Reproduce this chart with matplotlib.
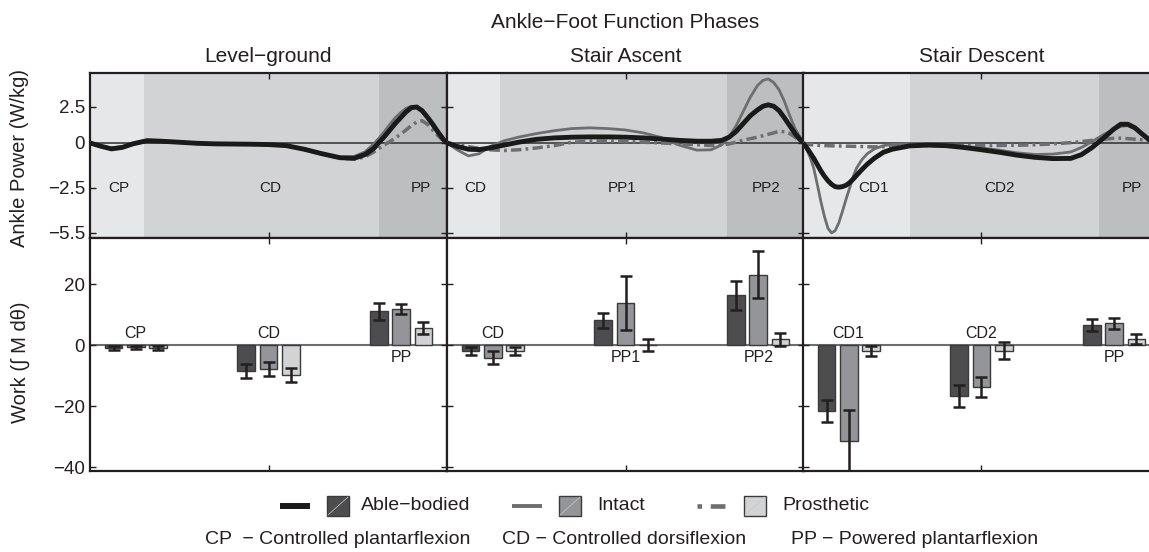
import numpy as np
import matplotlib
matplotlib.use('Agg')
import matplotlib.pyplot as plt
from matplotlib.lines import Line2D
from matplotlib.patches import Rectangle

plt.rcParams['font.family'] = ['Liberation Sans', 'DejaVu Sans']

MINUS = '\u2212'

# ---------------- data ----------------
tasks = ['Level' + MINUS + 'ground', 'Stair Ascent', 'Stair Descent']
groups = ['Able' + MINUS + 'bodied', 'Intact', 'Prosthetic']

# phase boundaries as fraction of stance, and phase names
phase_bounds = [[0, 0.151, 0.81, 1.0], [0, 0.149, 0.784, 1.0], [0, 0.30, 0.83, 1.0]]
phase_names = [['CP', 'CD', 'PP'], ['CD', 'PP1', 'PP2'], ['CD1', 'CD2', 'PP']]
phase_label_x = [[0.081, 0.504, 0.926], [0.079, 0.49, 0.893], [0.198, 0.55, 0.921]]

# ankle power (W/kg) vs fraction of stance
level_x = [0, 0.03, 0.06, 0.09, 0.12, 0.16, 0.2, 0.25, 0.3, 0.35, 0.4, 0.45, 0.5, 0.55, 0.6, 0.65, 0.7, 0.74,
           0.77, 0.795, 0.81, 0.825, 0.84, 0.855, 0.87, 0.885, 0.9, 0.915, 0.93, 0.945, 0.96, 0.975, 0.99, 1.0]
level_able = [0, -0.18, -0.33, -0.25, -0.05, 0.16, 0.12, 0.05, -0.02, -0.05, -0.06, -0.07, -0.09, -0.15,
              -0.35, -0.6, -0.82, -0.85,
              -0.65, -0.3, 0.05, 0.45, 0.9, 1.35, 1.75, 2.15, 2.45, 2.5, 2.25, 1.8, 1.3, 0.75, 0.25, 0]
level_intact = [0, -0.15, -0.3, -0.22, -0.05, 0.15, 0.1, 0.04, -0.02, -0.05, -0.06, -0.07, -0.09, -0.15,
                -0.35, -0.6, -0.8, -0.75,
                -0.5, -0.05, 0.35, 0.8, 1.3, 1.75, 2.1, 2.4, 2.55, 2.5, 2.25, 1.8, 1.25, 0.7, 0.25, 0]
level_prost = [0, -0.15, -0.3, -0.22, -0.05, 0.12, 0.1, 0.04, -0.02, -0.05, -0.06, -0.07, -0.09, -0.15,
               -0.35, -0.6, -0.85, -0.9,
               -0.78, -0.5, -0.3, -0.1, 0.1, 0.35, 0.6, 0.9, 1.2, 1.45, 1.55, 1.3, 0.9, 0.5, 0.15, 0]

ascent_x = [0, 0.03, 0.06, 0.09, 0.12, 0.16, 0.2, 0.25, 0.3, 0.35, 0.4, 0.45, 0.5, 0.55, 0.6, 0.65, 0.7,
            0.74, 0.77, 0.79, 0.81, 0.83, 0.85, 0.87, 0.885, 0.9, 0.915, 0.93, 0.945, 0.96, 0.975, 0.99, 1.0]
ascent_able = [0, -0.2, -0.35, -0.37, -0.28, -0.12, 0.05, 0.25, 0.35, 0.4, 0.42, 0.42, 0.4, 0.35, 0.27, 0.18, 0.12,
               0.12, 0.18, 0.4, 0.8, 1.35, 1.9, 2.3, 2.55, 2.65, 2.55, 2.25, 1.75, 1.2, 0.65, 0.2, 0]
ascent_intact = [0, -0.4, -0.72, -0.6, -0.2, 0.15, 0.4, 0.65, 0.85, 1.0, 1.05, 1.0, 0.9, 0.7, 0.38, -0.12, -0.4,
                 -0.38, -0.1, 0.4, 1.2, 2.2, 3.2, 4.0, 4.35, 4.45, 4.2, 3.7, 2.9, 1.9, 1.0, 0.35, 0]
ascent_prost = [0, -0.1, -0.2, -0.3, -0.38, -0.42, -0.38, -0.28, -0.15, 0.05, 0.12, 0.13, 0.1, 0.05, 0.0, -0.05, -0.1,
                -0.14, -0.12, -0.05, 0.05, 0.2, 0.3, 0.4, 0.5, 0.6, 0.7, 0.8, 0.78, 0.65, 0.4, 0.12, 0]

descent_x = [0, 0.01, 0.02, 0.03, 0.04, 0.05, 0.06, 0.07, 0.08, 0.09, 0.1, 0.11, 0.12, 0.13, 0.14, 0.15,
             0.165, 0.18, 0.2, 0.225, 0.25, 0.3, 0.35, 0.4, 0.45, 0.5, 0.55, 0.6, 0.65, 0.7, 0.75,
             0.78, 0.81, 0.84, 0.87, 0.89, 0.91, 0.93, 0.95, 0.97, 0.985, 1.0]
descent_able = [0, -0.25, -0.55, -0.85, -1.2, -1.55, -1.85, -2.1, -2.3, -2.43, -2.46, -2.43, -2.36, -2.22, -2.02, -1.8,
                -1.48, -1.18, -0.85, -0.52, -0.35, -0.16, -0.12, -0.15, -0.25, -0.38, -0.52, -0.68, -0.8, -0.87, -0.86,
                -0.65, -0.25, 0.3, 0.95, 1.3, 1.3, 1.05, 0.62, 0.22, 0.07, 0]
descent_intact = [0, -0.35, -0.8, -1.4, -2.3, -3.4, -4.4, -5.2, -5.5, -5.35, -4.85, -4.1, -3.3, -2.55, -1.9, -1.4,
                  -0.93, -0.6, -0.33, -0.15, -0.08, -0.04, -0.05, -0.1, -0.18, -0.28, -0.4, -0.55, -0.64, -0.62, -0.5,
                  -0.25, 0.1, 0.55, 0.95, 1.15, 1.2, 1.0, 0.6, 0.25, 0.08, 0]
descent_prost = [0, -0.05, -0.09, -0.12, -0.13, -0.14, -0.15, -0.15, -0.16, -0.16, -0.17, -0.17, -0.18, -0.18, -0.19, -0.19,
                 -0.2, -0.21, -0.22, -0.21, -0.2, -0.17, -0.15, -0.15, -0.15, -0.15, -0.14, -0.13, -0.1, -0.05, 0.02,
                 0.1, 0.18, 0.25, 0.32, 0.33, 0.3, 0.26, 0.22, 0.18, 0.14, 0.1]

power_x = [level_x, ascent_x, descent_x]
power = [[level_able, level_intact, level_prost],
         [ascent_able, ascent_intact, ascent_prost],
         [descent_able, descent_intact, descent_prost]]

# work per phase (mean, sd) for each task
work_able = [[-1.0, -8.5, 11.0], [-1.9, 8.1, 16.3], [-21.6, -16.7, 6.6]]
work_able_sd = [[0.6, 2.4, 2.9], [1.4, 2.4, 4.8], [3.6, 3.6, 1.9]]
work_intact = [[-0.8, -7.8, 11.8], [-4.1, 13.8, 23.0], [-31.3, -13.7, 7.1]]
work_intact_sd = [[0.4, 2.2, 1.5], [2.0, 8.9, 7.7], [9.9, 3.3, 1.9]]
work_prost = [[-1.0, -9.8, 5.7], [-1.9, 0.0, 1.9], [-2.0, -1.8, 1.9]]
work_prost_sd = [[0.6, 2.25, 2.0], [1.2, 1.9, 2.2], [1.7, 2.85, 1.6]]

# ---------------- style ----------------
shade = ['#e6e7e8', '#d1d3d4', '#bcbec0']
bar_colors = ['#4d4d4f', '#939598', '#d1d3d4']
line_colors = ['#1a1a1a', '#6d6e71', '#6d6e71']
line_widths = [3.5, 2.0, 2.5]
line_styles = ['-', '-', (0, (3, 1.2, 0.8, 1.2))]
spine_col = '#231f20'

W, H = 1149, 552
fig = plt.figure(figsize=(W / 100, H / 100), dpi=100)

# nonlinear power axis (matches the original tick spacing)
kv = np.array([-20, -5.5, -2.5, 0, 2.5, 20])
kp = np.array([-21.354, -6.25, -3.125, 0, 2.5, 20])


def fwd(v):
    return np.interp(v, kv, kp)


def inv(p):
    return np.interp(p, kp, kv)


def px(x0, y0, x1, y1):
    return [x0 / W, 1 - y1 / H, (x1 - x0) / W, (y1 - y0) / H]


lefts = [90, 447, 803]
pw = 357
tick_fs = 13.5

for i in range(3):
    # ---- power panel ----
    ax = fig.add_axes(px(lefts[i], 73, lefts[i] + pw, 238))
    ax.set_yscale('function', functions=(fwd, inv))
    b = phase_bounds[i]
    for k in range(3):
        ax.axvspan(b[k], b[k + 1], color=shade[k], lw=0, zorder=0)
        ax.text(phase_label_x[i][k], -2.5, phase_names[i][k], ha='center', va='center',
                fontsize=11, color='#231f20', zorder=5)
    ax.axhline(0, color='#3a3a3a', lw=1.2, zorder=1)
    for g in [1, 2, 0]:
        ax.plot(power_x[i], power[i][g], color=line_colors[g], lw=line_widths[g],
                linestyle=line_styles[g], zorder=3, solid_capstyle='butt', solid_joinstyle='round')
    ax.set_xlim(0, 1)
    ax.set_ylim(-5.84, 4.86)
    ax.set_yticks([-5.5, -2.5, 0, 2.5])
    ax.set_yticklabels([MINUS + '5.5', MINUS + '2.5', '0', '2.5'])
    ax.set_xticks([0.5])
    ax.tick_params(direction='in', length=4, width=1, top=True, right=True,
                   labelbottom=False, labelleft=(i == 0), labelsize=tick_fs, colors=spine_col)
    for s in ax.spines.values():
        s.set_linewidth(1.6)
        s.set_color(spine_col)

    # ---- work panel ----
    ax2 = fig.add_axes(px(lefts[i], 238, lefts[i] + pw, 471))
    centers = np.arange(1, 4)
    offs = [-0.166, 0, 0.166]
    means = [work_able[i], work_intact[i], work_prost[i]]
    sds = [work_able_sd[i], work_intact_sd[i], work_prost_sd[i]]
    ax2.axhline(0, color='#6d6e71', lw=1.5, zorder=1)
    for g in range(3):
        ax2.bar(centers + offs[g], means[g], 0.135, yerr=sds[g], color=bar_colors[g],
                edgecolor='#3a3a3a', linewidth=1.0, zorder=2,
                error_kw=dict(ecolor='#231f20', elinewidth=1.8, capsize=4.5, capthick=1.8, zorder=3))
    for k in range(3):
        yl = 3.9 if work_able[i][k] < 0 else -4.0
        ax2.text(centers[k], yl, phase_names[i][k], ha='center', va='center', fontsize=11.5,
                 color='#231f20')
    ax2.set_xlim(0.657, 3.343)
    ax2.set_ylim(-41.3, 35.1)
    ax2.set_yticks([-40, -20, 0, 20])
    ax2.set_xticks([2])
    ax2.tick_params(direction='in', length=4, width=1, top=True, right=True,
                    labelbottom=False, labelleft=(i == 0), labelsize=tick_fs, colors=spine_col)
    for s in ax2.spines.values():
        s.set_linewidth(1.6)
        s.set_color(spine_col)

# ---------------- overlay for titles, labels and legend ----------------
ov = fig.add_axes([0, 0, 1, 1], zorder=10)
ov.set_xlim(0, W)
ov.set_ylim(H, 0)
ov.axis('off')
ov.patch.set_alpha(0)

ov.text(625, 23, 'Ankle' + MINUS + 'Foot Function Phases', ha='center', va='center', fontsize=15, color='#231f20')
for i in range(3):
    ov.text(lefts[i] + pw / 2, 56, tasks[i], ha='center', va='center', fontsize=15, color='#231f20')
ov.text(20, 158, 'Ankle Power (W/kg)', rotation=90, ha='center', va='center', fontsize=14.5, color='#231f20')
ov.text(20, 362, 'Work (\u222b M d\u03b8)', rotation=90, ha='center', va='center', fontsize=14.5, color='#231f20')

leg_line_x = [(280, 310), (512, 542), (697, 732)]
leg_patch_x = [327, 559, 744]
leg_text_x = [361, 597, 782]
ly = 506
for g in range(3):
    ov.add_line(Line2D(leg_line_x[g], [ly, ly], color=line_colors[g], lw=line_widths[g] + 0.8,
                       linestyle=line_styles[g] if g < 2 else (0, (1.0, 1.9, 3.2, 1.9)),
                       solid_capstyle='butt'))
    ov.add_patch(Rectangle((leg_patch_x[g], ly - 10), 22, 20, facecolor=bar_colors[g],
                           edgecolor='#3a3a3a', lw=1.0))
    ov.add_line(Line2D([leg_patch_x[g] + 1, leg_patch_x[g] + 21], [ly + 9, ly - 9],
                       color='#c8c8c8', lw=0.5))
    ov.text(leg_text_x[g], ly, groups[g], ha='left', va='center', fontsize=14, color='#231f20')

abbrevs = ['CP  ' + MINUS + ' Controlled plantarflexion',
           'CD ' + MINUS + ' Controlled dorsiflexion',
           'PP ' + MINUS + ' Powered plantarflexion']
abbrev_x = [205, 502, 791]
for t, x in zip(abbrevs, abbrev_x):
    ov.text(x, 540, t, ha='left', va='center', fontsize=14, color='#231f20')

fig.savefig('out.png', dpi=100)
